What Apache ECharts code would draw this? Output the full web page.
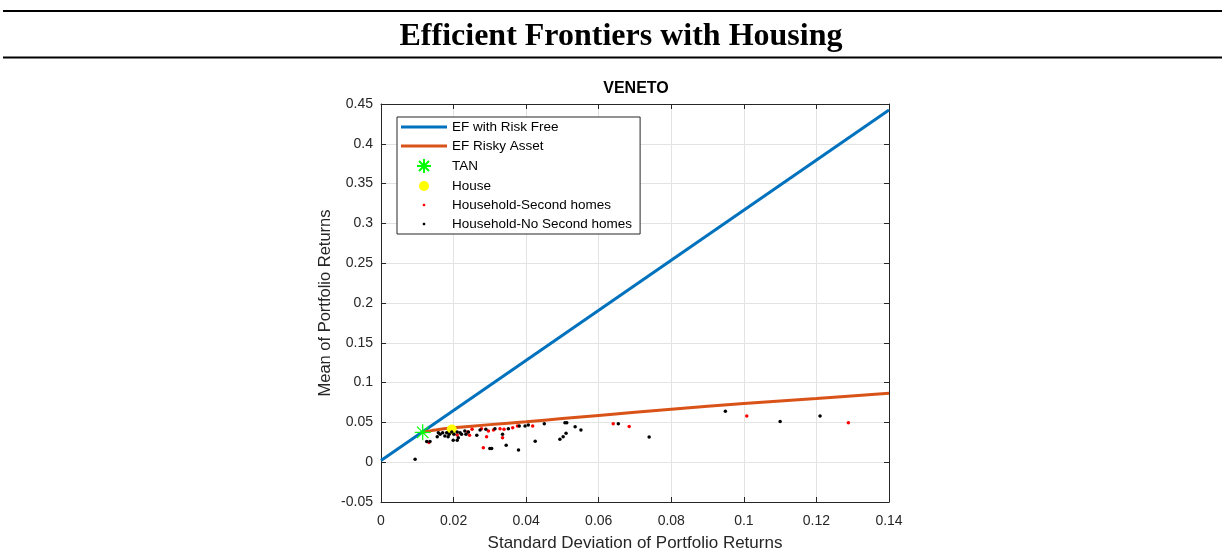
<!DOCTYPE html>
<html>
<head>
<meta charset="utf-8">
<script src="https://cdn.jsdelivr.net/npm/echarts@6/dist/echarts.min.js"></script>
<style>
html,body{margin:0;padding:0;background:#fff;}
#chart{width:1222px;height:550px;}
</style>
</head>
<body>
<div id="chart"></div>
<script>
// ---- Data ----
const pageTitle = 'Efficient Frontiers with Housing';
const plotTitle = 'VENETO';
const xName = 'Standard Deviation of Portfolio Returns';
const yName = 'Mean of Portfolio Returns';
const seriesNames = ['EF with Risk Free', 'EF Risky Asset', 'TAN', 'House',
  'Household-Second homes', 'Household-No Second homes'];

const efRiskFree = [[0, 0.0022], [0.14, 0.4425]];
const efRisky = [[0.0115, 0.0375], [0.015, 0.0405], [0.02, 0.0432], [0.03, 0.0472],
  [0.04, 0.0508], [0.05, 0.0548], [0.06, 0.0588], [0.08, 0.0665], [0.10, 0.0737],
  [0.12, 0.0800], [0.14, 0.0865]];
const tanPoint = [[0.0115, 0.0375]];
const housePoint = [[0.0195, 0.041]];
const secondHomes = [
  [0.0132, 0.0246], [0.0210, 0.0342], [0.0239, 0.0379], [0.0244, 0.0338], [0.0251, 0.0413],
  [0.0277, 0.0421], [0.0282, 0.0183], [0.0291, 0.0321], [0.0296, 0.0392], [0.0310, 0.0404],
  [0.0328, 0.0421], [0.0339, 0.0413], [0.0335, 0.0308], [0.0363, 0.0433], [0.0376, 0.0454],
  [0.0418, 0.0454], [0.0640, 0.0483], [0.0684, 0.0450], [0.1008, 0.0580], [0.1288, 0.0496]
];
const noSecondHomes = [
  [0.0094, 0.0038], [0.0126, 0.0259], [0.0135, 0.0259], [0.0155, 0.0321], [0.0158, 0.0371],
  [0.0163, 0.0350], [0.0170, 0.0371], [0.0176, 0.0329], [0.0181, 0.0371], [0.0185, 0.0321],
  [0.0188, 0.0350], [0.0195, 0.0379], [0.0201, 0.0350], [0.0210, 0.0379], [0.0213, 0.0308],
  [0.0218, 0.0371], [0.0222, 0.0350], [0.0199, 0.0276], [0.0210, 0.0276], [0.0231, 0.0392],
  [0.0234, 0.0350], [0.0241, 0.0379], [0.0264, 0.0338], [0.0273, 0.0404], [0.0289, 0.0413],
  [0.0300, 0.0171], [0.0305, 0.0171], [0.0314, 0.0421], [0.0335, 0.0350], [0.0351, 0.0421],
  [0.0345, 0.0213], [0.0379, 0.0154], [0.0381, 0.0454], [0.0397, 0.0454], [0.0406, 0.0467],
  [0.0425, 0.0263], [0.0450, 0.0483], [0.0507, 0.0496], [0.0512, 0.0496], [0.0535, 0.0446],
  [0.0551, 0.0404], [0.0493, 0.0288], [0.0502, 0.0321], [0.0510, 0.0363], [0.0654, 0.0483],
  [0.0739, 0.0317], [0.0949, 0.0640], [0.1100, 0.0510], [0.1210, 0.0580]
];
const xTicks = { min: 0, max: 0.14, step: 0.02 };
const yTicks = { min: -0.05, max: 0.45, step: 0.05 };

// ---- Styles ----
const axisColor = '#262626';
const sans = '"Liberation Sans", Arial, Helvetica, sans-serif';
const fmt = v => String(parseFloat(Number(v).toFixed(3)));
const tanPath = 'path://M0,8L16,8M8,0L8,16M2.3,2.3L13.7,13.7M2.3,13.7L13.7,2.3';
const legendLine = 'path://M0,0L0,0M46,14L46,14M0,5.5h46v3h-46z';
const legendTan = 'path://M0,0L0,0M46,14L46,14M16,7L30,7M23,0L23,14M18,2L28,12M18,12L28,2';
const legendHouse = 'path://M0,0L0,0M46,14L46,14M18,7A5,5,0,1,1,28,7A5,5,0,1,1,18,7Z';
const legendDot = 'path://M0,0L0,0M46,14L46,14M21.8,5.8h2.4v2.4h-2.4z';

const chart = echarts.init(document.getElementById('chart'));

const baseAxis = {
  type: 'value',
  axisLine: { show: true, onZero: false, lineStyle: { color: axisColor, width: 1 } },
  axisTick: { show: true, inside: true, length: 5, lineStyle: { color: axisColor } },
};

chart.setOption({
  animation: false,
  backgroundColor: '#fff',
  graphic: [
    { type: 'line', shape: { x1: 3, y1: 11, x2: 1222, y2: 11 }, style: { stroke: '#000', lineWidth: 2 } },
    { type: 'line', shape: { x1: 3, y1: 57.5, x2: 1222, y2: 57.5 }, style: { stroke: '#000', lineWidth: 2 } },
    { type: 'text', x: 621, y: 37, style: { text: pageTitle, align: 'center', verticalAlign: 'middle',
      font: 'bold 32px "Liberation Serif", "Times New Roman", serif', fill: '#000' } },
    { type: 'text', x: 636, y: 89, style: { text: plotTitle, align: 'center', verticalAlign: 'middle',
      font: 'bold 16px ' + sans, fill: '#000' } }
  ],
  grid: { left: 381, top: 104, width: 508, height: 398, containLabel: false, outerBoundsMode: 'none' },
  xAxis: [
    Object.assign({}, baseAxis, {
      position: 'bottom', min: xTicks.min, max: xTicks.max, interval: xTicks.step,
      axisLabel: { color: axisColor, fontSize: 14, fontFamily: sans, margin: 12, formatter: fmt },
      splitLine: { show: true, lineStyle: { color: '#e3e3e3', width: 1 } },
      name: xName, nameLocation: 'middle', nameGap: 33,
      nameTextStyle: { color: axisColor, fontSize: 17, fontFamily: sans }
    }),
    Object.assign({}, baseAxis, {
      position: 'top', min: xTicks.min, max: xTicks.max, interval: xTicks.step,
      axisLabel: { show: false }, splitLine: { show: false }
    })
  ],
  yAxis: [
    Object.assign({}, baseAxis, {
      position: 'left', min: yTicks.min, max: yTicks.max, interval: yTicks.step,
      axisLabel: { color: axisColor, fontSize: 14, fontFamily: sans, margin: 8, formatter: fmt },
      splitLine: { show: true, lineStyle: { color: '#e3e3e3', width: 1 } },
      name: yName, nameLocation: 'middle', nameGap: 47,
      nameTextStyle: { color: axisColor, fontSize: 16.5, fontFamily: sans }
    }),
    Object.assign({}, baseAxis, {
      position: 'right', min: yTicks.min, max: yTicks.max, interval: yTicks.step,
      axisLabel: { show: false }, splitLine: { show: false }
    })
  ],
  legend: {
    orient: 'vertical', left: 397, top: 117,
    padding: [3, 8, 3, 3], itemWidth: 46, itemHeight: 14, itemGap: 5,
    borderColor: axisColor, borderWidth: 1, backgroundColor: '#fff',
    textStyle: { color: '#000', fontSize: 13.5, fontFamily: sans },
    data: [
      { name: seriesNames[0], icon: legendLine },
      { name: seriesNames[1], icon: legendLine },
      { name: seriesNames[2], icon: legendTan },
      { name: seriesNames[3], icon: legendHouse },
      { name: seriesNames[4], icon: legendDot },
      { name: seriesNames[5], icon: legendDot }
    ]
  },
  series: [
    { name: seriesNames[0], type: 'line', data: efRiskFree, symbol: 'none',
      lineStyle: { color: '#0072BD', width: 3 }, itemStyle: { color: '#0072BD' }, z: 2 },
    { name: seriesNames[1], type: 'line', data: efRisky, symbol: 'none', smooth: 0.3,
      lineStyle: { color: '#D95319', width: 3 }, itemStyle: { color: '#D95319' }, z: 2 },
    { name: seriesNames[3], type: 'scatter', data: housePoint, symbol: 'circle', symbolSize: 10,
      itemStyle: { color: '#FFFF00', opacity: 1 }, z: 3 },
    { name: seriesNames[4], type: 'scatter', data: secondHomes, symbol: 'circle', symbolSize: 3.5,
      itemStyle: { color: '#FF0000', opacity: 1 }, z: 4 },
    { name: seriesNames[5], type: 'scatter', data: noSecondHomes, symbol: 'circle', symbolSize: 3.5,
      itemStyle: { color: '#000000', opacity: 1 }, z: 5 },
    { name: seriesNames[2], type: 'scatter', data: tanPoint, symbol: tanPath, symbolSize: 16,
      itemStyle: { color: '#00FF00', borderColor: '#00FF00', borderWidth: 1.2, opacity: 1 }, z: 6 }
  ]
});
</script>
</body>
</html>
